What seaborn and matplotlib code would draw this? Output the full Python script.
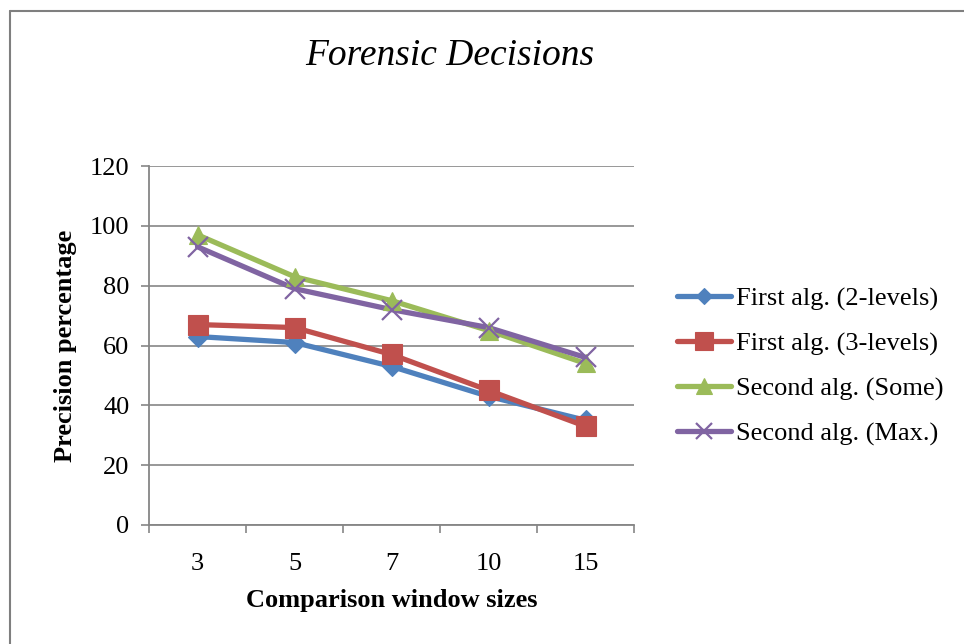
import matplotlib
matplotlib.use("Agg")
import matplotlib.pyplot as plt
from matplotlib.lines import Line2D
import numpy as np
import pandas as pd
import seaborn as sns

window_sizes = ["3", "5", "7", "10", "15"]
first_2_levels = [63, 61, 53, 43, 35]
first_3_levels = [67, 66, 57, 45, 33]
second_some = [97, 83, 75, 65, 54]
second_max = [93, 79, 72, 66, 56]
series_names = ["First alg. (2-levels)", "First alg. (3-levels)",
                "Second alg. (Some)", "Second alg. (Max.)"]
y_ticks = [0, 20, 40, 60, 80, 100, 120]

colors = ["#4F81BD", "#C0504D", "#9BBB59", "#8064A2"]
markers = ["D", "s", "^", "x"]
marker_sizes = [10, 14.5, 13, 14]

sns.set_theme(style="white")
plt.rcParams["font.family"] = ["Liberation Serif", "DejaVu Serif"]
plt.rcParams["text.color"] = "black"
plt.rcParams["axes.labelcolor"] = "black"
plt.rcParams["xtick.color"] = "black"
plt.rcParams["ytick.color"] = "black"

rows = []
for name, vals in zip(series_names,
                      [first_2_levels, first_3_levels, second_some, second_max]):
    for i, v in enumerate(vals):
        rows.append({"pos": i, "size": window_sizes[i], "series": name, "value": v})
df = pd.DataFrame(rows)

fig = plt.figure(figsize=(9.64, 6.44), dpi=100)
ax = fig.add_axes([0.1546, 0.1848, 0.5031, 0.5574])

sns.lineplot(data=df, x="pos", y="value", hue="series", hue_order=series_names,
             palette=colors, linewidth=3.8, legend=False, ax=ax,
             estimator=None, sort=False, zorder=3)

# markers drawn per series on top of lines
for name, col, mk, ms in zip(series_names, colors, markers, marker_sizes):
    sub = df[df["series"] == name]
    ax.plot(sub["pos"], sub["value"], linestyle="none", marker=mk, markersize=ms,
            color=col, markeredgecolor=col, markeredgewidth=1.6 if mk == "x" else 0.8,
            zorder=4)

ax.set_xlim(-0.5, len(window_sizes) - 0.5)
ax.set_ylim(0, 120)
ax.set_yticks(y_ticks)
ax.set_yticklabels([str(t) for t in y_ticks])
ax.set_xticks(np.arange(len(window_sizes)))
ax.set_xticklabels(window_sizes)
ax.set_xticks(np.arange(len(window_sizes) + 1) - 0.5, minor=True)

grid_col = "#868686"
ax.yaxis.grid(True, color=grid_col, linewidth=1.2)
ax.xaxis.grid(False)
ax.set_axisbelow(True)
for s in ["top", "right"]:
    ax.spines[s].set_visible(False)
for s in ["left", "bottom"]:
    ax.spines[s].set_color(grid_col)
    ax.spines[s].set_linewidth(1.3)

ax.tick_params(axis="y", which="major", left=True, length=6, width=1.2,
               color=grid_col, labelcolor="black", labelsize=19, pad=8,
               direction="out")
ax.tick_params(axis="x", which="major", bottom=False, labelcolor="black",
               labelsize=19, pad=14)
ax.tick_params(axis="x", which="minor", bottom=True, length=6, width=1.2,
               color=grid_col, direction="out")

ax.set_xlabel("Comparison window sizes", fontsize=19, fontweight="bold",
              labelpad=10, color="black")
ax.set_ylabel("Precision percentage", fontsize=19, fontweight="bold",
              labelpad=9, color="black")

fig.text(0.467, 0.914, "Forensic Decisions", fontsize=27, fontstyle="italic",
         ha="center", va="center", color="black")

handles = [Line2D([0], [0], color=c, linewidth=3.8, marker=m,
                  markersize=ms * 0.85, markeredgecolor=c,
                  markeredgewidth=1.6 if m == "x" else 0.8)
           for c, m, ms in zip(colors, markers, marker_sizes)]
leg = fig.legend(handles, series_names, loc="center left",
                 bbox_to_anchor=(0.702, 0.431), frameon=False, fontsize=19,
                 handlelength=2.05, handletextpad=0.2, labelspacing=0.8,
                 borderpad=0, borderaxespad=0)
for t in leg.get_texts():
    t.set_color("black")

# outer chart frame
fig.add_artist(Line2D([0.0104, 0.0104], [0.0, 0.983], color="#7f7f7f",
                      linewidth=1.5, transform=fig.transFigure))
fig.add_artist(Line2D([0.0104, 1.0], [0.983, 0.983], color="#7f7f7f",
                      linewidth=1.5, transform=fig.transFigure))

fig.savefig("out.png", dpi=100, facecolor="white")
